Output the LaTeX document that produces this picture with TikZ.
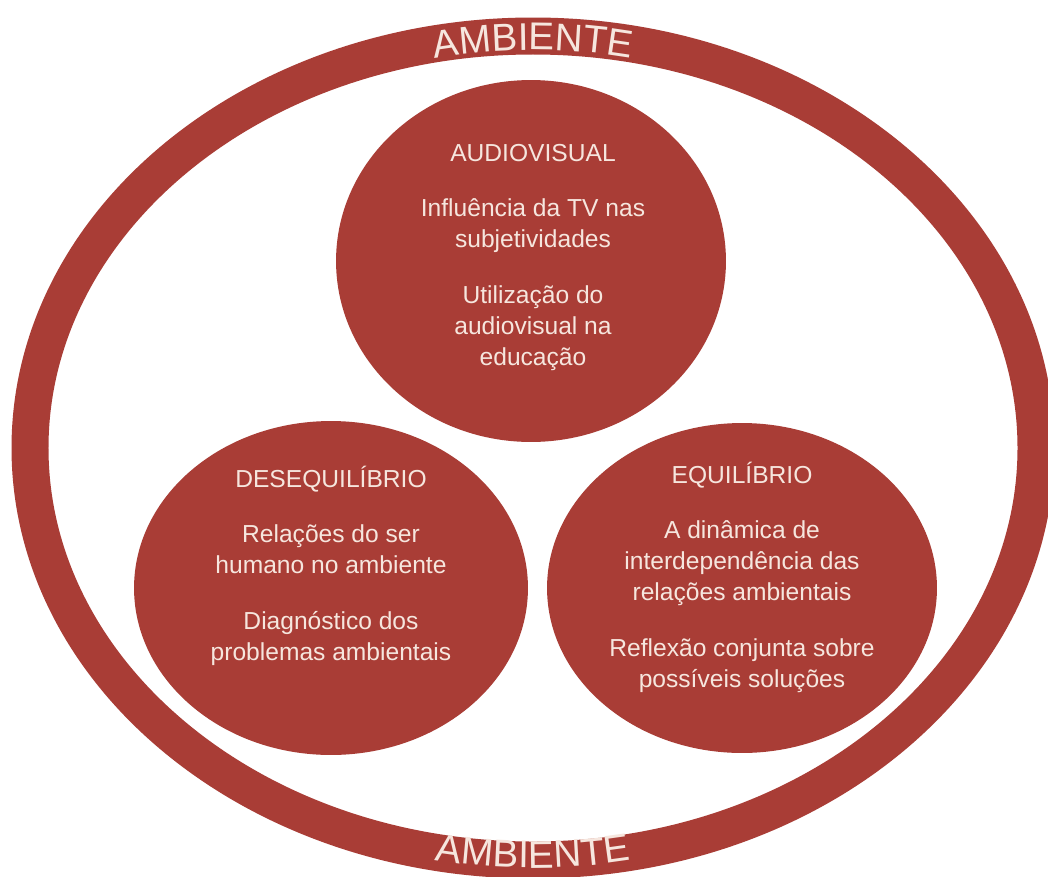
\documentclass[tikz,border=0pt]{standalone}
\usepackage{fontspec}
\setmainfont{Liberation Sans}
\usetikzlibrary{shapes.geometric,decorations.text}
\definecolor{ambred}{RGB}{169,61,54}
\definecolor{ambtext}{RGB}{246,230,222}

\begin{document}
\begin{tikzpicture}[x=0.02cm, y=0.02cm,
  bubble/.style={ellipse, fill=ambred, inner sep=0pt},
  bubbletext/.style={anchor=base, align=center, text=ambtext, inner sep=0pt,
    font=\fontsize{14}{17.6}\selectfont},
  ringtext/.style={decorate, decoration={text along path, text align=center,
    text={|\fontsize{22}{22}\selectfont\color{ambtext}|AMBIENTE}}}]
  \useasboundingbox[fill=white] (0,0) rectangle (1048,-876);

  \draw[ambred, line width=0.74cm] (533,-448) ellipse [x radius=503, y radius=412];
  \path[ringtext] (533,-448) ++(110:486 and 398) arc[start angle=110, end angle=70, x radius=486, y radius=398];
  \path[ringtext] (533,-448) ++(250:511 and 420) arc[start angle=250, end angle=290, x radius=511, y radius=420];

  \node (audio) [bubble, minimum width=7.8cm, minimum height=7.24cm] at (531,-261) {};
  \node (deseq) [bubble, minimum width=7.88cm, minimum height=6.68cm] at (331,-588) {};
  \node (equil) [bubble, minimum width=7.8cm, minimum height=6.6cm] at (742,-588) {};

  \node (audiotxt) [bubbletext] at (533,-365) {AUDIOVISUAL\\[14pt]Influência da TV nas\\subjetividades\\[14pt]Utilização do\\audiovisual na\\educação};
  \node (deseqtxt) [bubbletext] at (331,-660) {DESEQUILÍBRIO\\[14pt]Relações do ser\\humano no ambiente\\[14pt]Diagnóstico dos\\problemas ambientais};
  \node (equiltxt) [bubbletext] at (742,-687) {EQUILÍBRIO\\[14pt]A dinâmica de\\interdependência das\\relações ambientais\\[14pt]Reflexão conjunta sobre\\possíveis soluções};
\end{tikzpicture}
\end{document}
